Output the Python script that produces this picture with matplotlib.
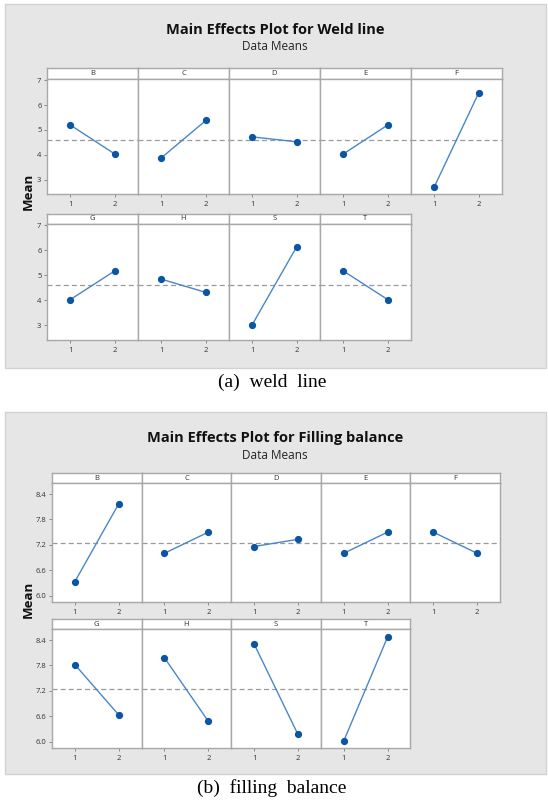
import matplotlib
matplotlib.use('Agg')
import matplotlib.pyplot as plt
import matplotlib.patches as mpatches

# ── Data ──────────────────────────────────────────────────────────────────────
factors_row1 = ['B', 'C', 'D', 'E', 'F']
factors_row2 = ['G', 'H', 'S', 'T']
levels = [1, 2]

weld_level1 = [5.20, 3.87, 4.72, 4.03, 2.70, 4.03, 4.85, 3.03, 5.18]
weld_level2 = [4.03, 5.38, 4.52, 5.20, 6.50, 5.18, 4.32, 6.15, 4.03]
weld_mean = 4.60
weld_yticks = [3, 4, 5, 6, 7]
weld_yticklabels = ['3', '4', '5', '6', '7']

fill_level1 = [6.33, 7.00, 7.16, 7.00, 7.50, 7.82, 7.98, 8.31, 6.01]
fill_level2 = [8.17, 7.50, 7.33, 7.50, 7.00, 6.63, 6.48, 6.17, 8.47]
fill_mean = 7.24
fill_yticks = [6.0, 6.6, 7.2, 7.8, 8.4]
fill_yticklabels = ['6.0', '6.6', '7.2', '7.8', '8.4']

# ── Style ─────────────────────────────────────────────────────────────────────
W, H = 548, 805
BG = '#e6e6e6'
FRAME = '#a8a8a8'
LINE = '#4a86c8'
DOT = '#0a55a5'
plt.rcParams['font.family'] = ['Open Sans', 'DejaVu Sans']

fig = plt.figure(figsize=(W / 100, H / 100), dpi=100)
fig.patch.set_facecolor('white')


def px_axes(x0, y0, x1, y1):
    ax = fig.add_axes([x0 / W, 1 - y1 / H, (x1 - x0) / W, (y1 - y0) / H])
    ax.set_zorder(2)
    return ax


def block(top, box_h, title, lvl1, lvl2, mean, ylim, yticks, yticklabels,
          left, right, rows_px, caption, cap_y):
    # grey background box
    fig.add_artist(mpatches.Rectangle(
        (5 / W, 1 - (top + box_h) / H), 541 / W, box_h / H, transform=fig.transFigure,
        facecolor=BG, edgecolor='#d2d2d2', linewidth=1, zorder=-5))
    fig.text(275 / W, 1 - (top + 26) / H, title, ha='center', va='center',
             fontsize=10.5, fontweight='bold', color='#111111')
    fig.text(275 / W, 1 - (top + 43) / H, 'Data Means', ha='center', va='center',
             fontsize=8.5, color='#222222')
    fig.text(28 / W, 1 - (top + 187) / H, 'Mean', ha='center', va='center',
             rotation=90, fontsize=9.5, fontweight='bold', color='#111111')
    fig.text(272 / W, 1 - cap_y / H, caption, ha='center', va='center',
             fontsize=14, family='Liberation Serif', color='black')

    pw = (right - left) / 5
    rows = [(factors_row1,) + rows_px[0], (factors_row2,) + rows_px[1]]
    k = 0
    for names, s_top, p_top, p_bot in rows:
        for j, name in enumerate(names):
            x0 = left + j * pw
            x1 = x0 + pw
            # strip
            sax = px_axes(x0, top + s_top, x1, top + p_top)
            sax.set_xticks([])
            sax.set_yticks([])
            sax.set_facecolor('white')
            for sp in sax.spines.values():
                sp.set_color(FRAME)
                sp.set_linewidth(1.0)
            sax.text(0.5, 0.5, name, ha='center', va='center', fontsize=5.5,
                     color='#333333', transform=sax.transAxes)
            # panel
            ax = px_axes(x0, top + p_top, x1, top + p_bot)
            ax.set_facecolor('white')
            ax.axhline(mean, color='#9a9a9a', linestyle=(0, (4, 2.5)), linewidth=0.9, zorder=1)
            ax.plot(levels, [lvl1[k], lvl2[k]], color=LINE, linewidth=1.0, zorder=2)
            ax.plot(levels, [lvl1[k], lvl2[k]], linestyle='none', marker='o',
                    markersize=4.2, color=DOT, zorder=3)
            ax.set_xlim(0.48, 2.52)
            ax.set_ylim(*ylim)
            ax.set_xticks(levels)
            ax.set_xticklabels([str(v) for v in levels])
            ax.tick_params(axis='x', length=2, width=0.6, color='#777777',
                           labelsize=5.5, labelcolor='#333333', pad=3)
            if j == 0:
                ax.set_yticks(yticks)
                ax.set_yticklabels(yticklabels)
                ax.tick_params(axis='y', length=2, width=0.6, color='#777777',
                               labelsize=5.5, labelcolor='#333333', pad=2)
            else:
                ax.set_yticks([])
            for sp in ax.spines.values():
                sp.set_color(FRAME)
                sp.set_linewidth(1.0)
            k += 1


block(4, 364, 'Main Effects Plot for Weld line', weld_level1, weld_level2, weld_mean,
      (2.42, 7.05), weld_yticks, weld_yticklabels, 47, 502,
      ((64, 75, 190), (210, 220, 336)), '(a)  weld  line', 382)
block(412, 362, 'Main Effects Plot for Filling balance', fill_level1, fill_level2, fill_mean,
      (5.85, 8.66), fill_yticks, fill_yticklabels, 52, 500,
      ((61, 71, 190), (207, 217, 336)), '(b)  filling  balance', 788)

plt.savefig('out.png', dpi=100)
plt.close()
